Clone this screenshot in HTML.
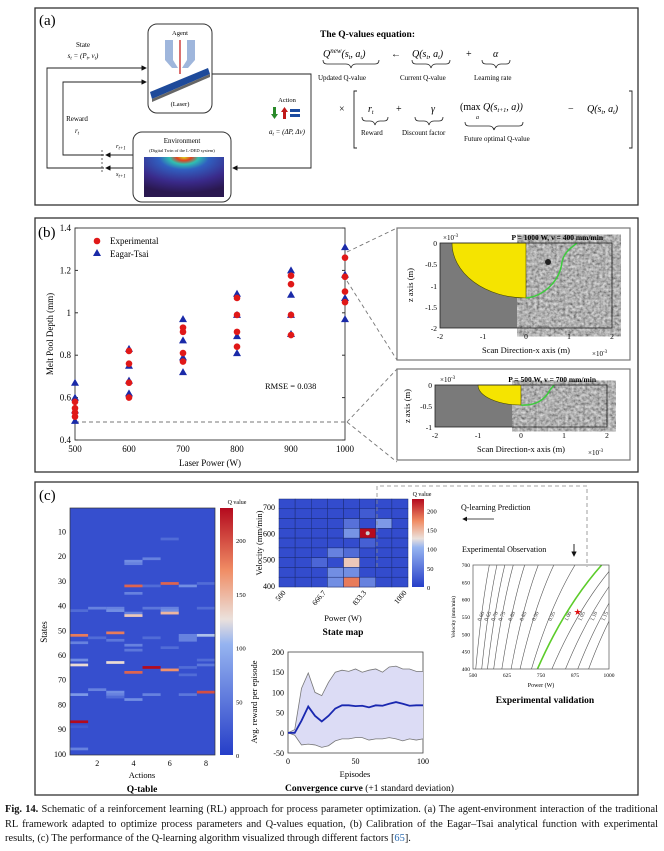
<!DOCTYPE html>
<html><head><meta charset="utf-8"><style>
html,body{margin:0;padding:0;background:#fff;}
svg{display:block;font-family:"Liberation Serif",serif;}
.cap{position:absolute;left:5px;top:803px;width:653px;font:10.4px/14.5px "Liberation Serif",serif;text-align:justify;color:#111;}
</style></head><body>
<div style="position:relative;width:664px;height:851px;overflow:hidden">
<svg id="fig" width="664" height="851" viewBox="0 0 664 851">
<defs>
<linearGradient id="qgrad" x1="0" y1="1" x2="0" y2="0">
<stop offset="0" stop-color="#263ec8"/><stop offset="0.45" stop-color="#96b4f0"/><stop offset="0.55" stop-color="#ebe1dc"/><stop offset="0.75" stop-color="#f08c64"/><stop offset="1" stop-color="#b40a1e"/>
</linearGradient>
<radialGradient id="envgrad" cx="0.5" cy="0" r="0.9">
<stop offset="0" stop-color="#d8e020"/><stop offset="0.1" stop-color="#e04020"/><stop offset="0.2" stop-color="#30c0b0"/><stop offset="0.35" stop-color="#3060c0"/><stop offset="0.7" stop-color="#3a2a8a"/><stop offset="1" stop-color="#2a1850"/>
</radialGradient>
<filter id="noise"><feTurbulence type="fractalNoise" baseFrequency="0.35" numOctaves="2" seed="3"/><feColorMatrix type="saturate" values="0"/><feComponentTransfer><feFuncR type="linear" slope="1.1" intercept="-0.12"/><feFuncG type="linear" slope="1.1" intercept="-0.12"/><feFuncB type="linear" slope="1.1" intercept="-0.12"/><feFuncA type="linear" slope="0" intercept="1"/></feComponentTransfer></filter>
<clipPath id="cclip"><rect x="473" y="565" width="136" height="104"/></clipPath>
<marker id="arr" markerWidth="6" markerHeight="6" refX="5" refY="3" orient="auto"><path d="M0,0 L6,3 L0,6 z" fill="#111"/></marker>
</defs>

<!-- Panel (a) -->
<g>
<rect x="35" y="8" width="603" height="197" fill="none" stroke="#333" stroke-width="1.3"/>
<text x="39" y="25" font-size="15">(a)</text>
<rect x="148" y="24" width="64" height="89" rx="9" fill="#fff" stroke="#333"/>
<text x="180" y="35" font-size="6.5" text-anchor="middle">Agent</text>
<path d="M165,40 h8 v20 l5,8 h-6 l-7,-8 z M195,40 h-8 v20 l-5,8 h6 l7,-8 z" fill="#9fb6dc"/>
<line x1="180" y1="40" x2="180" y2="74" stroke="#c01010" stroke-width="1.2"/>
<path d="M150,92 L208,68 L210,74 L152,99 z" fill="#1e4a9a"/>
<path d="M152,99 L210,74 L210,77 L152,102 z" fill="#666"/>
<text x="180" y="106" font-size="6.5" text-anchor="middle">(Laser)</text>
<text x="83" y="47" font-size="7" text-anchor="middle">State</text>
<text x="83" y="58" font-size="7" text-anchor="middle" font-style="italic">s<tspan font-size="5" dy="1.5">t</tspan><tspan dy="-1.5"> = (P</tspan><tspan font-size="5" dy="1.5">t</tspan><tspan dy="-1.5">, v</tspan><tspan font-size="5" dy="1.5">t</tspan><tspan dy="-1.5">)</tspan></text>
<polyline points="104,168 47,168 47,68 146,68" fill="none" stroke="#222" stroke-width="0.9" marker-end="url(#arr)"/>
<polyline points="104,155 63,155 63,82 146,82" fill="none" stroke="#222" stroke-width="0.9" marker-end="url(#arr)"/>
<line x1="102" y1="150" x2="102" y2="174" stroke="#222" stroke-width="0.7" stroke-dasharray="2,2"/>
<text x="77" y="121" font-size="7" text-anchor="middle">Reward</text>
<text x="77" y="133" font-size="7" text-anchor="middle" font-style="italic">r<tspan font-size="5" dy="1.5">t</tspan></text>
<polyline points="212,74 311,74 311,168 233,168" fill="none" stroke="#222" stroke-width="0.9" marker-end="url(#arr)"/>
<line x1="133" y1="155" x2="106" y2="155" stroke="#222" stroke-width="0.9" marker-end="url(#arr)"/>
<line x1="133" y1="168" x2="106" y2="168" stroke="#222" stroke-width="0.9" marker-end="url(#arr)"/>
<text x="116" y="148" font-size="6.5" font-style="italic">r<tspan font-size="5" dy="1.5">t+1</tspan></text>
<text x="116" y="176" font-size="6.5" font-style="italic">s<tspan font-size="5" dy="1.5">t+1</tspan></text>
<rect x="133" y="132" width="98" height="70" rx="9" fill="#fff" stroke="#333"/>
<text x="182" y="143" font-size="7" text-anchor="middle">Environment</text>
<text x="182" y="152" font-size="4.5" text-anchor="middle">(Digital Twin of the L-DED system)</text>
<rect x="144" y="157" width="80" height="40" fill="url(#envgrad)"/>
<text x="287" y="102" font-size="6.5" text-anchor="middle">Action</text>
<path d="M273,107 h3 v7 h2 l-3.5,5 l-3.5,-5 h2 z" fill="#2a8a2a"/>
<path d="M283,119 h3 v-7 h2 l-3.5,-5 l-3.5,5 h2 z" fill="#c01818"/>
<rect x="290" y="109" width="10" height="3" fill="#1a4aa0"/><rect x="290" y="114" width="10" height="3" fill="#1a4aa0"/>
<text x="287" y="134" font-size="7" text-anchor="middle" font-style="italic">a<tspan font-size="5" dy="1.5">t</tspan><tspan dy="-1.5"> = (ΔP, Δv)</tspan></text>
<g font-size="10" font-style="italic">
<text x="320" y="37" font-size="9.5" font-weight="bold" font-style="normal">The Q-values equation:</text>
<text x="323" y="57">Q<tspan font-size="7" dy="-4">new</tspan><tspan dy="4">(s</tspan><tspan font-size="6" dy="2">t</tspan><tspan dy="-2">, a</tspan><tspan font-size="6" dy="2">t</tspan><tspan dy="-2">)</tspan></text>
<text x="391" y="57" font-style="normal">←</text>
<text x="412" y="57">Q(s<tspan font-size="6" dy="2">t</tspan><tspan dy="-2">, a</tspan><tspan font-size="6" dy="2">t</tspan><tspan dy="-2">)</tspan></text>
<text x="466" y="57" font-style="normal">+</text>
<text x="493" y="57">α</text>
<path d="M323,60 q0,4 4,4 h19 q4,0 5,4 q1,-4 5,-4 h19 q4,0 4,-4" fill="none" stroke="#222" stroke-width="0.8"/>
<path d="M412,60 q0,4 4,4 h10 q4,0 5,4 q1,-4 5,-4 h10 q4,0 4,-4" fill="none" stroke="#222" stroke-width="0.8"/>
<path d="M482,60 q0,4 4,4 h5 q4,0 5,4 q1,-4 5,-4 h5 q4,0 4,-4" fill="none" stroke="#222" stroke-width="0.8"/>
<g font-size="7" font-style="normal"><text x="318" y="80">Updated Q-value</text><text x="400" y="80">Current Q-value</text><text x="474" y="80">Learning rate</text></g>
<text x="339" y="112" font-style="normal">×</text>
<path d="M357,91 h-3 v57 h3 M629,91 h3 v57 h-3" fill="none" stroke="#222" stroke-width="0.9"/>
<text x="368" y="112">r<tspan font-size="6" dy="2">t</tspan></text>
<text x="396" y="112" font-style="normal">+</text>
<text x="431" y="112">γ</text>
<text x="460" y="110"><tspan font-style="normal">(max</tspan> Q(s<tspan font-size="6" dy="2">t+1</tspan><tspan dy="-2">, a))</tspan></text>
<text x="476" y="119" font-size="6">a</text>
<text x="568" y="112" font-style="normal">−</text>
<text x="587" y="112">Q(s<tspan font-size="6" dy="2">t</tspan><tspan dy="-2">, a</tspan><tspan font-size="6" dy="2">t</tspan><tspan dy="-2">)</tspan></text>
<path d="M362,117 q0,4 4,4 h4 q4,0 5,4 q1,-4 5,-4 h4 q4,0 4,-4" fill="none" stroke="#222" stroke-width="0.8"/>
<path d="M415,117 q0,4 4,4 h5 q4,0 5,4 q1,-4 5,-4 h5 q4,0 4,-4" fill="none" stroke="#222" stroke-width="0.8"/>
<path d="M465,122 q0,4 4,4 h20 q4,0 5,4 q1,-4 5,-4 h20 q4,0 4,-4" fill="none" stroke="#222" stroke-width="0.8"/>
<g font-size="7" font-style="normal"><text x="361" y="135">Reward</text><text x="402" y="135">Discount factor</text><text x="464" y="141">Future optimal Q-value</text></g>
</g>
</g>

<!-- Panel (b) -->
<g>
<rect x="35" y="218" width="603" height="254" fill="none" stroke="#333" stroke-width="1.3"/>
<text x="38" y="237" font-size="15">(b)</text>
<g id="scatter"></g>
<g>
<rect x="397" y="228" width="233" height="132" fill="#fff" stroke="#777" stroke-width="1.2"/>
<rect x="440" y="243" width="172" height="85" fill="#7a7a7a"/>
<rect x="526" y="243" width="86" height="85" fill="#888" filter="url(#noise)"/>
<path d="M452,243 A74,55 0 0 0 526,298 L526,243 z" fill="#f5e400" stroke="#4a4a00" stroke-width="0.6"/>
<path d="M526,298 C545,296 560,280 562,262 C564,252 572,247 577,243" fill="none" stroke="#3ecb3e" stroke-width="1.5"/>
<circle cx="548" cy="262" r="3" fill="#222"/>
<rect x="440" y="243" width="172" height="85" fill="none" stroke="#222" stroke-width="0.8"/>
<g font-size="7.5" text-anchor="end"><text x="437" y="246">0</text><text x="437" y="267">-0.5</text><text x="437" y="289">-1</text><text x="437" y="310">-1.5</text><text x="437" y="331">-2</text></g>
<g font-size="7.5" text-anchor="middle"><text x="440" y="339">-2</text><text x="483" y="339">-1</text><text x="526" y="339">0</text><text x="569" y="339">1</text><text x="612" y="339">2</text></g>
<text x="443" y="240" font-size="7">×10<tspan font-size="5" dy="-3">-3</tspan></text>
<text x="603" y="240" font-size="7.5" font-weight="bold" text-anchor="end">P = 1000 W, v = 400 mm/min</text>
<text x="526" y="353" font-size="8.5" text-anchor="middle">Scan Direction-x axis (m)</text>
<text x="592" y="356" font-size="7">×10<tspan font-size="5" dy="-3">-3</tspan></text>
<text transform="translate(413,285) rotate(-90)" font-size="8.5" text-anchor="middle">z axis (m)</text>
</g>
<g>
<rect x="397" y="369" width="233" height="91" fill="#fff" stroke="#777" stroke-width="1.2"/>
<rect x="435" y="385" width="86" height="42" fill="#7a7a7a"/>
<rect x="521" y="385" width="86" height="42" fill="#999" filter="url(#noise)"/>
<path d="M478,385 A43,20 0 0 0 521,405 L521,385 z" fill="#f5e400" stroke="#4a4a00" stroke-width="0.6"/>
<path d="M521,405 C535,406 545,400 550,390 L554,385" fill="none" stroke="#3ecb3e" stroke-width="1.5"/>
<rect x="435" y="385" width="172" height="42" fill="none" stroke="#222" stroke-width="0.8"/>
<g font-size="7.5" text-anchor="end"><text x="432" y="388">0</text><text x="432" y="409">-0.5</text><text x="432" y="430">-1</text></g>
<g font-size="7.5" text-anchor="middle"><text x="435" y="438">-2</text><text x="478" y="438">-1</text><text x="521" y="438">0</text><text x="564" y="438">1</text><text x="607" y="438">2</text></g>
<text x="440" y="382" font-size="7">×10<tspan font-size="5" dy="-3">-3</tspan></text>
<text x="596" y="382" font-size="7.5" font-weight="bold" text-anchor="end">P = 500 W, v = 700 mm/min</text>
<text x="521" y="452" font-size="8.5" text-anchor="middle">Scan Direction-x axis (m)</text>
<text x="588" y="455" font-size="7">×10<tspan font-size="5" dy="-3">-3</tspan></text>
<text transform="translate(410,406) rotate(-90)" font-size="8.5" text-anchor="middle">z axis (m)</text>
</g>
<path d="M347,252 L397,228 M347,281 L397,360 M347,422 L397,369 M347,422 L397,462" stroke="#777" stroke-width="0.9" stroke-dasharray="4,3" fill="none"/>
</g>

<!-- Panel (c) -->
<g>
<rect x="35" y="482" width="603" height="313" fill="none" stroke="#333" stroke-width="1.3"/>
<text x="39" y="500" font-size="15">(c)</text>
<g id="qtable"></g>
<g id="statemap"></g>
<g id="conv"></g>
<g id="contour"></g>
<path d="M377,567 L377,486 L587,486 L587,567" fill="none" stroke="#888" stroke-width="0.8" stroke-dasharray="4,3"/>
<text x="461" y="510" font-size="8">Q-learning Prediction</text>
<line x1="494" y1="519" x2="463" y2="519" stroke="#111" stroke-width="0.8" marker-end="url(#arr)"/>
<text x="462" y="552" font-size="8">Experimental Observation</text>
<line x1="574" y1="544" x2="574" y2="556" stroke="#111" stroke-width="0.9" marker-end="url(#arr)"/>
</g>
</svg>
<div class="cap"><b>Fig. 14.</b> Schematic of a reinforcement learning (RL) approach for process parameter optimization. (a) The agent-environment interaction of the traditional RL framework adapted to optimize process parameters and Q-values equation, (b) Calibration of the Eagar–Tsai analytical function with experimental results, (c) The performance of the Q-learning algorithm visualized through different factors [<span style="color:#2a6ab0">65</span>].</div>
</div>
<script>
const NS='http://www.w3.org/2000/svg';
// ---- Panel b data ----
const powers=[500,600,700,800,900,1000];
const expDepth=[[0.58,0.55,0.53,0.51],[0.82,0.76,0.67,0.60],[0.93,0.91,0.81,0.77],[1.07,0.99,0.91,0.84],[1.175,1.135,0.99,0.895],[1.26,1.17,1.10,1.05]];
const etDepth=[[0.67,0.60,0.54,0.49],[0.83,0.75,0.68,0.62],[0.97,0.87,0.79,0.72],[1.09,0.99,0.89,0.81],[1.20,1.085,0.99,0.90],[1.31,1.18,1.07,0.97]];
const depthTicks=[0.4,0.6,0.8,1,1.2,1.4];
// ---- Q-table data [action, state, value]; background value ----
const qBase=15;
const qHighlights=[[1,42,40],[1,52,180],[1,55,60],[1,62,70],[1,64,130],[1,76,80],[1,87,230],[1,89,25],[1,98,60],
[2,41,60],[2,53,40],[2,74,60],
[3,41,60],[3,42,70],[3,51,180],[3,54,50],[3,63,130],[3,75,70],[3,76,60],[3,77,40],
[4,22,70],[4,23,60],[4,32,190],[4,35,60],[4,43,60],[4,44,140],[4,56,60],[4,58,50],[4,67,190],[4,78,70],
[5,21,60],[5,32,40],[5,41,50],[5,53,40],[5,65,230],[5,76,60],
[6,13,40],[6,31,190],[6,41,60],[6,42,70],[6,43,150],[6,57,40],[6,66,170],
[7,32,70],[7,52,60],[7,53,60],[7,54,60],[7,65,40],[7,68,40],[7,76,50],
[8,31,40],[8,41,40],[8,52,110],[8,62,40],[8,64,50],[8,75,200]];
const qStateTicks=[10,20,30,40,50,60,70,80,90,100];
const qActionTicks=[2,4,6,8];
const qCbTicks=[0,50,100,150,200];
// ---- State map [col,row(top=0),value] ----
const smCells=[[5,3,230],[6,2,80],[4,2,45],[4,3,75],[5,4,30],[3,5,60],[4,5,40],[2,6,35],[4,6,140],[3,7,70],[4,7,70],[3,8,70],[4,8,180],[5,8,60],[5,1,25]];
const smVelTicks=[400,500,600,700];
const smPowTicks=['500','666.7','833.3','1000'];
// ---- Convergence ----
const convEp=[0,5,10,15,20,25,30,35,40,45,50,55,60,65,70,75,80,85,90,95,100];
const convMean=[0,0,30,65,42,28,42,60,68,68,66,67,63,68,67,72,76,72,67,68,68];
const convUpper=[0,8,110,148,100,92,125,150,155,152,158,150,155,158,150,163,165,158,158,152,152];
const convLower=[0,-6,-30,-28,-30,-36,-32,-20,-15,-15,-12,-12,-18,-15,-15,-12,-15,-20,-15,-18,-15];
const convYTicks=[-50,0,50,100,150,200];
const convXTicks=[0,50,100];
// ---- Contour ----
const cLevels=['0.60','0.65','0.70','0.75','0.80','0.85','0.90','0.95','1.00','1.05','1.10','1.15','1.20'];
const cMidP=[535,560,585,612,648,690,735,795,855,905,950,990,1025];
const cSpread=[25,28,32,36,42,50,62,80,118,115,110,105,100];
const cVelTicks=[400,450,500,550,600,650,700];
const cPowTicks=[500,625,750,875,1000];

function el(tag,attrs,parent){const e=document.createElementNS(NS,tag);for(const k in attrs)e.setAttribute(k,attrs[k]);parent.appendChild(e);return e;}
function txt(x,y,s,size,anchor,parent){const t=el('text',{x:x,y:y,'font-size':size,'text-anchor':anchor||'middle'},parent);t.textContent=s;return t;}

// ===== Panel b scatter =====
(function(){
const g=document.getElementById('scatter');
const X=p=>75+(p-500)/500*270, Y=d=>440-(d-0.4)/1.0*212;
el('rect',{x:75,y:228,width:270,height:212,fill:'#fff',stroke:'#333','stroke-width':0.9},g);
depthTicks.forEach(t=>{const l=txt(71,Y(t)+3,String(t),9,'end',g);


el('line',{x1:75,y1:Y(t),x2:78,y2:Y(t),stroke:'#333'},g);el('line',{x1:342,y1:Y(t),x2:345,y2:Y(t),stroke:'#333'},g);});
powers.forEach(p=>{const l=txt(X(p),452,String(p),9,'middle',g);

});
el('line',{x1:75,y1:422,x2:345,y2:422,stroke:'#777','stroke-dasharray':'4,3'},g);
powers.forEach((p,i)=>{
 etDepth[i].forEach(d=>{const x=X(p),y=Y(d);const m=el('path',{d:`M${x},${y-4} L${x+4},${y+3} L${x-4},${y+3} z`,fill:'#1a2aa8'},g);
 
 });
 expDepth[i].forEach(d=>{const m=el('circle',{cx:X(p),cy:Y(d),r:3.3,fill:'#e01818'},g);
 
 });
});
const lg1=el('circle',{cx:97,cy:241,r:3.3,fill:'#e01818'},g);


txt(110,244,'Experimental',9,'start',g);
el('path',{d:'M97,249 L101,256 L93,256 z',fill:'#1a2aa8'},g);
txt(110,257,'Eagar-Tsai',9,'start',g);
const r=txt(265,389,'RMSE = 0.038',8.5,'start',g);


const xt=txt(210,466,'Laser Power (W)',9,'middle',g);


const yt=el('text',{transform:'translate(53,334) rotate(-90)','font-size':9,'text-anchor':'middle'},g);yt.textContent='Melt Pool Depth (mm)';


})();

function qcol(v){const t=Math.max(0,Math.min(1,v/230));
const st=[[0,[38,62,200]],[0.45,[150,180,240]],[0.55,[235,225,220]],[0.75,[240,140,100]],[1,[180,10,30]]];
for(let i=1;i<st.length;i++){if(t<=st[i][0]){const a=st[i-1],b=st[i];const f=(t-a[0])/(b[0]-a[0]);return 'rgb('+a[1].map((c,k)=>Math.round(c+(b[1][k]-c)*f)).join(',')+')';}}return 'rgb(180,10,30)';}

// ===== Q-table =====
(function(){
const g=document.getElementById('qtable');
const x0=70,x1=215,y0=508,y1=755;const cw=(x1-x0)/8,rh=(y1-y0)/100;
const X=a=>x0+(a-1)*cw, Y=s=>y0+(s-1)*rh;
el('rect',{x:x0,y:y0,width:x1-x0,height:y1-y0,fill:qcol(qBase)},g);
qHighlights.forEach(h=>{const c=el('rect',{x:X(h[0]),y:Y(h[1]),width:cw,height:rh*1.1,fill:qcol(h[2])},g);

});
el('rect',{x:x0,y:y0,width:x1-x0,height:y1-y0,fill:'none',stroke:'#333','stroke-width':0.7},g);
qStateTicks.forEach(s=>{txt(66,Y(s)+rh/2+3,String(s),8,'end',g);});
qActionTicks.forEach(a=>{txt(X(a)+cw/2,766,String(a),8,'middle',g);});
txt(142,778,'Actions',8.5,'middle',g);
const t=txt(142,792,'Q-table',9.5,'middle',g);t.setAttribute('font-weight','bold');


const yl=el('text',{transform:'translate(47,632) rotate(-90)','font-size':9,'text-anchor':'middle'},g);yl.textContent='States';
const cb=el('rect',{x:220,y:508,width:13,height:247,fill:'url(#qgrad)'},g);


qCbTicks.forEach(v=>{txt(236,755-v/230*247+3,String(v),6.5,'start',g);});
txt(237,504,'Q value',6,'middle',g);
})();

// ===== State map =====
(function(){
const g=document.getElementById('statemap');
const x0=279,x1=408,y0=499,y1=587;const cw=(x1-x0)/8,rh=(y1-y0)/9;
const base=qcol(12);
for(let c=0;c<8;c++)for(let r=0;r<9;r++){el('rect',{x:x0+c*cw,y:y0+r*rh,width:cw,height:rh,fill:base,stroke:'#1a2a70','stroke-width':0.5},g);}
smCells.forEach(h=>{const c=el('rect',{x:x0+h[0]*cw,y:y0+h[1]*rh,width:cw,height:rh,fill:qcol(h[2]),stroke:'#1a2a70','stroke-width':0.5},g);

});
el('circle',{cx:x0+5.5*cw,cy:y0+3.5*rh,r:2,fill:'#ccc'},g);
const VY=v=>586-(v-400)/300*79;
smVelTicks.forEach(v=>txt(275,VY(v)+3,String(v),8,'end',g));
smPowTicks.forEach((p,i)=>{const x=x0+4+i*(x1-x0-8)/3;const t=el('text',{transform:`translate(${x+3},${y1+6}) rotate(-50)`,'font-size':7.5,'text-anchor':'end'},g);t.textContent=p;});
txt(343,621,'Power (W)',8.5,'middle',g);
const t=txt(343,635,'State map',9.5,'middle',g);t.setAttribute('font-weight','bold');
const yl=el('text',{transform:'translate(262,543) rotate(-90)','font-size':8.5,'text-anchor':'middle'},g);yl.textContent='Velocity (mm/min)';
el('rect',{x:412,y:499,width:12,height:88,fill:'url(#qgrad)'},g);
[0,50,100,150,200].forEach(v=>txt(427,587-v/230*88+3,String(v),6.5,'start',g));
txt(422,496,'Q value',6,'middle',g);
})();

// ===== Convergence =====
(function(){
const g=document.getElementById('conv');
const X=e=>288+e/100*135, Y=r=>753-(r+50)/250*101;
el('rect',{x:288,y:652,width:135,height:101,fill:'#fff',stroke:'#444','stroke-width':0.8},g);
let band='M'+convEp.map((e,i)=>X(e)+','+Y(convUpper[i])).join(' L')+' L'+convEp.slice().reverse().map((e,j)=>X(e)+','+Y(convLower[convEp.length-1-j])).join(' L')+' z';
const b=el('path',{d:band,fill:'#dcdcf5',stroke:'none'},g);


el('path',{d:'M'+convEp.map((e,i)=>X(e)+','+Y(convUpper[i])).join(' L'),fill:'none',stroke:'#777','stroke-width':0.8},g);
el('path',{d:'M'+convEp.map((e,i)=>X(e)+','+Y(convLower[i])).join(' L'),fill:'none',stroke:'#777','stroke-width':0.8},g);
const m=el('path',{d:'M'+convEp.map((e,i)=>X(e)+','+Y(convMean[i])).join(' L'),fill:'none',stroke:'#1a28b0','stroke-width':1.8},g);


convYTicks.forEach(v=>txt(284,Y(v)+3,String(v),8,'end',g));
convXTicks.forEach(v=>txt(X(v),764,String(v),8,'middle',g));
txt(355,777,'Episodes',8.5,'middle',g);
const t=el('text',{x:285,y:791,'font-size':9.5},g);t.innerHTML='<tspan font-weight="bold">Convergence curve</tspan> (+1 standard deviation)';


const yl=el('text',{transform:'translate(257,702) rotate(-90)','font-size':8.5,'text-anchor':'middle'},g);yl.textContent='Avg. reward per episode';
})();

// ===== Contour =====
(function(){
const g=document.getElementById('contour');
const X=p=>473+(p-500)/500*136, Y=v=>669-(v-400)/300*104;
el('rect',{x:473,y:565,width:136,height:104,fill:'#fff'},g);
const cg=el('g',{'clip-path':'url(#cclip)'},g);
cLevels.forEach((L,i)=>{const pb=cMidP[i]-cSpread[i],pt=cMidP[i]+cSpread[i];
const green=L==='1.00';
const p=el('path',{d:`M${X(pb)},${Y(400)} Q${X(cMidP[i]-cSpread[i]*0.15)},${Y(580)} ${X(pt)},${Y(700)}`,fill:'none',stroke:green?'#5ccc2a':'#555','stroke-width':green?1.6:0.6},cg);


const lx=X(cMidP[i]),ly=Y(550);
const t=el('text',{transform:`translate(${lx},${ly}) rotate(-65)`,'font-size':5.5,'text-anchor':'middle',fill:'#333'},cg);t.textContent=L;});
el('rect',{x:473,y:565,width:136,height:104,fill:'none',stroke:'#555','stroke-width':0.7},g);
const s=el('text',{x:X(885),y:Y(565)+3,'font-size':9,fill:'#e01010','text-anchor':'middle'},g);s.textContent='★';


cVelTicks.forEach(v=>txt(470,Y(v)+2,String(v),5.5,'end',g));
cPowTicks.forEach(p=>txt(X(p),677,String(p),5.5,'middle',g));
txt(541,687,'Power (W)',6,'middle',g);
const t=txt(545,703,'Experimental validation',9.5,'middle',g);t.setAttribute('font-weight','bold');
const yl=el('text',{transform:'translate(455,617) rotate(-90)','font-size':5.5,'text-anchor':'middle'},g);yl.textContent='Velocity (mm/min)';
})();
</script>
</body></html>
